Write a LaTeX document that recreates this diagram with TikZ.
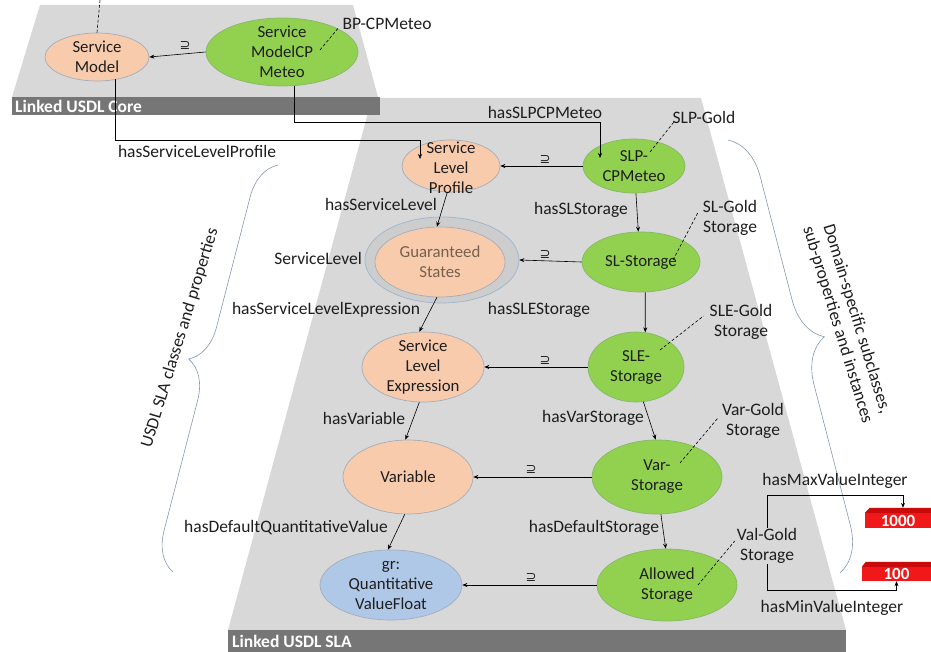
\documentclass[tikz,border=0pt]{standalone}
\usepackage{fontspec}
\setmainfont{Carlito}
\newfontfamily\symf{DejaVu Sans}
\usetikzlibrary{shapes.geometric,arrows.meta,calc,decorations.pathreplacing}
\definecolor{planec}{HTML}{D8D8D8}
\definecolor{barc}{HTML}{767676}
\definecolor{orangef}{HTML}{F8CBAD}
\definecolor{greenf}{HTML}{92D050}
\definecolor{bluef}{HTML}{B0C8E8}
\definecolor{edgec}{HTML}{A3ADBA}
\definecolor{edgeg}{HTML}{86B868}
\definecolor{ringc}{HTML}{CDCDCD}
\definecolor{ringe}{HTML}{9DB4D0}
\definecolor{bracec}{HTML}{8598AE}
\definecolor{ink}{HTML}{1E1E1E}
\definecolor{brownt}{HTML}{76604C}
\definecolor{redf}{HTML}{F01818}
\definecolor{redt}{HTML}{C80A0A}
\begin{document}
\begin{tikzpicture}[x=1pt,y=-1pt,
  ell/.style={ellipse, inner sep=0pt, line width=0.7pt},
  org/.style={ell, fill=orangef, draw=edgec},
  grn/.style={ell, fill=greenf, draw=edgeg},
  blu/.style={ell, fill=bluef, draw=edgec},
  lbl/.style={font=\fontsize{17.5}{20}\selectfont, inner sep=0pt, align=center, text=ink},
  ntxt/.style={font=\fontsize{16.8}{20}\selectfont, inner sep=0pt, align=center, text=ink},
  bartxt/.style={font=\bfseries\fontsize{17.5}{20}\selectfont, inner sep=0pt, text=white, anchor=west},
  arr/.style={-{Stealth[length=5pt,width=4pt]}, line width=0.6pt, draw=black},
  dsh/.style={dash pattern=on 3pt off 2pt, line width=0.6pt, draw=black},
  supl/.style={font=\symf\fontsize{13}{13}\selectfont, inner sep=0pt, text=ink},
  brc/.style={decorate, draw=bracec, line width=0.6pt},
  boxf/.style={rectangle, fill=redf, inner sep=0pt, text=white, font=\bfseries\fontsize{17}{17}\selectfont}
]
\useasboundingbox (0,0) rectangle (931,652);

% ---------- planes ----------
\fill[planec] (372,98) -- (701,98) -- (846,630) -- (228,630) -- cycle;
\fill[barc] (228,630) rectangle (846,652);
\node[bartxt] (slabar) at (232,641) {Linked USDL SLA};

\fill[planec] (40,5) -- (353,5) -- (378,97) -- (12,97) -- cycle;
\fill[barc] (12,97) rectangle (380,115);
\node[bartxt] (corebar) at (15,106) {Linked USDL Core};

% ---------- braces ----------
\draw[brc, decoration={brace, amplitude=38pt, aspect=0.5}] (173,572) -- (278,165);
\node[lbl, rotate=73] (lbrace) at (180,338) {USDL SLA classes and properties};
\draw[brc, decoration={brace, amplitude=44pt, aspect=0.48}] (728,140) -- (840,573);
\node[lbl, rotate=-73] (rbrace) at (847,322) {Domain-specific subclasses,\\sub-properties and instances};

% ---------- nodes ----------
\node[org, minimum width=104pt, minimum height=48pt] (sm) at (97,57) {};
\node[ntxt] (smt) at (sm) {Service\\Model};
\node[grn, minimum width=152pt, minimum height=68pt] (smcp) at (282,52) {};
\node[ntxt] (smcpt) at (smcp) {Service\\ModelCP\\Meteo};

\node[org, minimum width=98pt, minimum height=52pt] (slp) at (451,166) {};
\node[ntxt] (slpt) at (451,168) {Service\\Level\\Profile};
\node[grn, minimum width=102pt, minimum height=54pt] (slpc) at (634,166) {};
\node[ntxt] (slpct) at (slpc) {SLP-\\CPMeteo};

\node[ell, fill=ringc, draw=ringe, minimum width=154pt, minimum height=86pt] (gso) at (442,260) {};
\node[org, minimum width=130pt, minimum height=70pt] (gsi) at (440,262) {};
\node[ntxt, text=brownt] (gst) at (gsi) {Guaranteed\\States};
\node[grn, minimum width=118pt, minimum height=60pt] (sls) at (641,262) {};
\node[ntxt] (slst) at (sls) {SL-Storage};

\node[org, minimum width=122pt, minimum height=70pt] (sle) at (423,367) {};
\node[ntxt] (slet) at (sle) {Service\\Level\\Expression};
\node[grn, minimum width=96pt, minimum height=70pt] (sles) at (636,367) {};
\node[ntxt] (slest) at (sles) {SLE-\\Storage};

\node[org, minimum width=130pt, minimum height=74pt] (var) at (408,477) {};
\node[ntxt] (vart) at (var) {Variable};
\node[grn, minimum width=130pt, minimum height=74pt] (vars) at (657,477) {};
\node[ntxt] (varst) at (vars) {Var-\\Storage};

\node[blu, minimum width=142pt, minimum height=70pt] (gr) at (391,585) {};
\node[ntxt] (grt) at (gr) {gr:\\Quantitative\\ValueFloat};
\node[grn, minimum width=140pt, minimum height=72pt] (als) at (667,585) {};
\node[ntxt] (alst) at (als) {Allowed\\Storage};

% gold labels
\node[lbl] (bp) at (387,24) {BP-CPMeteo};
\node[lbl] (slpg) at (704,117) {SLP-Gold};
\node[lbl] (slg) at (730,218) {SL-Gold\\Storage};
\node[lbl] (sleg) at (741,322) {SLE-Gold\\Storage};
\node[lbl] (varg) at (753,421) {Var-Gold\\Storage};
\node[lbl] (valg) at (767,546) {Val-Gold\\Storage};

% red boxes
\node[boxf, minimum width=66pt, minimum height=15pt] (b1k) at (898,520.5) {1000};
\fill[redt] (b1k.north west) -- ++(5,-5) -- ($(b1k.north east)+(0,-5)$) -- (b1k.north east) -- cycle;
\node[boxf, minimum width=69pt, minimum height=14pt] (b100) at (896.5,574) {100};
\fill[redt] (b100.north west) -- ++(4,-5) -- ($(b100.north east)+(0,-5)$) -- (b100.north east) -- cycle;

% ---------- subclass arrows ----------
\draw[arr] (smcp.west) -- (sm.east);
\node[supl] (s1) at (185,46) {⊇};
\draw[arr] (slpc.west) -- (slp.east);
\node[supl] (s2) at (545,160) {⊇};
\draw[arr] (sls.west) -- (gso.east);
\node[supl] (s3) at (545,255) {⊇};
\draw[arr] (sles.west) -- (sle.east);
\node[supl] (s4) at (545,361) {⊇};
\draw[arr] (vars.west) -- (var.east);
\node[supl] (s5) at (531,470) {⊇};
\draw[arr] (als.west) -- (gr.east);
\node[supl] (s6) at (531,578) {⊇};

% ---------- property arrows ----------
\coordinate (smtop) at (100,0);
\draw[dsh] (sm.north) -- (smtop);
\draw[arr] ($(sm.center)+(18,22.5)$) -- ++(0,60.5) -| ($(slp.center)+(-31,-7)$);
\node[lbl] (l1) at (197,151) {hasServiceLevelProfile};
\draw[arr] ($(smcp.center)+(12,33.6)$) -- ++(0,36.4) -| ($(slpc.center)+(-34,-8)$);
\node[lbl] (l2) at (545,112) {hasSLPCPMeteo};

\draw[arr] (slp.-98) -- (gsi.95);
\node[lbl] (l3) at (381,204) {hasServiceLevel};
\node[lbl] (l4) at (318,258) {ServiceLevel};
\draw[arr] (gsi.-95) -- (sle.96);
\node[lbl] (l5) at (326,310) {hasServiceLevelExpression};
\draw[arr] (sle.-96) -- (var.94);
\node[lbl] (l6) at (364,418) {hasVariable};
\draw[arr] (var.-95) -- (gr.95);
\node[lbl] (l7) at (286,528) {hasDefaultQuantitativeValue};

\draw[arr] (slpc.-86) -- (sls.95);
\node[lbl] (l8) at (581,210) {hasSLStorage};
\draw[arr] (sls.-82) -- (sles.75);
\node[lbl] (l9) at (539,310) {hasSLEStorage};
\draw[arr] (sles.-78) -- (vars.92);
\node[lbl] (l10) at (593,418) {hasVarStorage};
\draw[arr] (vars.-84) -- (als.92);
\node[lbl] (l11) at (594,528) {hasDefaultStorage};

\draw[arr] (valg.north) -- ++(0,-33) -| ($(b1k.north)+(5,-5)$);
\node[lbl] (l12) at (835,481) {hasMaxValueInteger};
\draw[arr] (valg.south) -- ++(0,27) -| (b100.south);
\node[lbl] (l13) at (832,608) {hasMinValueInteger};

% ---------- dashed instance links ----------
\draw[dsh] ($(smcp.center)+(38,-2)$) -- ($(bp.south west)+(-4,-2)$);
\draw[dsh] ($(slpc.center)+(16,-14)$) -- ($(slpg.south west)+(2,-2)$);
\draw[dsh] ($(sls.center)+(32,-2)$) -- ($(slg.west)+(-5,-5)$);
\draw[dsh] ($(sles.center)+(24,-17)$) -- ($(sleg.west)+(-6,-6)$);
\draw[dsh] ($(vars.center)+(23,-14)$) -- ($(varg.west)+(-4,-3)$);
\draw[dsh] ($(als.center)+(31,0)$) -- ($(valg.west)+(-2,-5)$);
\end{tikzpicture}
\end{document}
